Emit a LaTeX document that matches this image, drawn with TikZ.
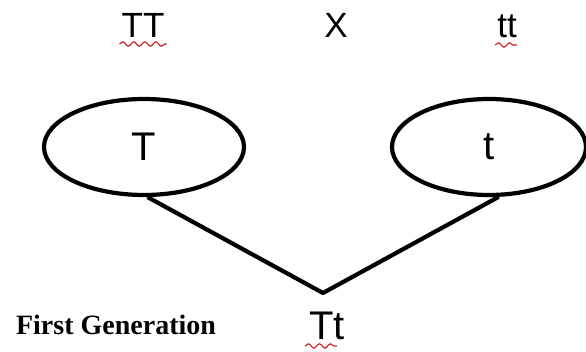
\documentclass[tikz,border=0pt]{standalone}
\usepackage{fontspec}
\setmainfont{Liberation Sans}
\newfontfamily\serifgen{Liberation Serif}
\usepackage{xcolor}
\usetikzlibrary{shapes.geometric, decorations.pathmorphing}
\definecolor{spellred}{HTML}{CC1A1A}

\begin{document}
\begin{tikzpicture}[
    x=1pt, y=-1pt,
    font=\fontsize{35}{42}\selectfont,
    parent/.style={anchor=base, inner sep=0pt},
    gamete/.style={ellipse, draw=black, line width=4.2pt, inner sep=0pt,
                   font=\fontsize{40}{48}\selectfont,
                   minimum width=200pt, minimum height=96pt},
    cross/.style={line width=4.2pt, line join=round, draw=black},
    squiggle/.style={draw=spellred, line width=1.1pt,
                     decorate, decoration={snake, segment length=11pt, amplitude=2.2pt}}
  ]
    \useasboundingbox (0,0) rectangle (586,352);

    \node[parent] (pTT) at (143,38) {TT};
    \node[parent] (pX)  at (336,38) {X};
    \node[parent] (ptt) at (507,38) {tt};

    \node[gamete] (gT) at (144,147) {T};
    \node[gamete, minimum width=194pt] (gt) at (489,147) {t};

    \coordinate (meet) at (323,293);
    \node[parent, font=\fontsize{40}{48}\selectfont] (child) at (327,340) {Tt};
    \node[parent, font=\serifgen\bfseries\fontsize{28}{34}\selectfont] (gen) at (116,335) {First Generation};

    \draw[cross] (gT.-86) -- (meet) -- (gt.-79);

    % spell-check marks
    \draw[squiggle] ([xshift=-2pt, yshift=-6pt]pTT.base west) -- ([xshift=2pt, yshift=-6pt]pTT.base east);
    \draw[squiggle] ([xshift=-2pt, yshift=-7pt]ptt.base west) -- ([xshift=0pt, yshift=-7pt]ptt.base east);
    \draw[squiggle] ([xshift=-4pt, yshift=-6pt]child.base west) -- ([xshift=-8pt, yshift=-6pt]child.base east);
\end{tikzpicture}
\end{document}
